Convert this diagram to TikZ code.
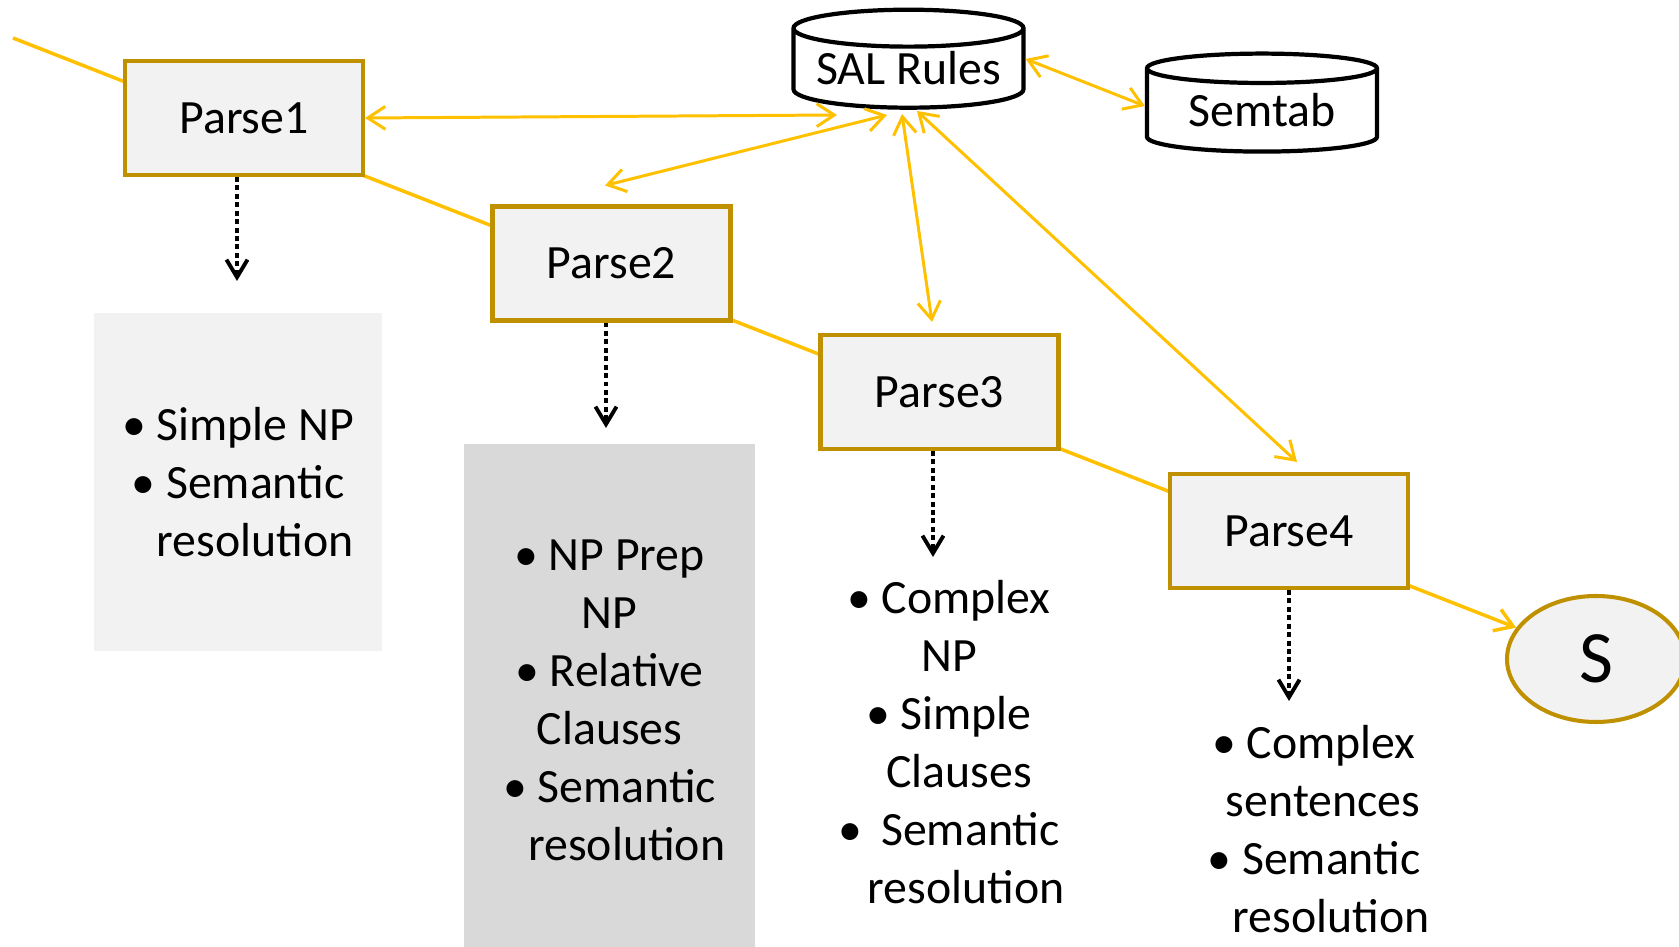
\documentclass[tikz,border=0pt]{standalone}
\usepackage{fontspec}
\setmainfont{Carlito}
\usetikzlibrary{arrows.meta,shapes.geometric,backgrounds}

\begin{document}
\begin{tikzpicture}[
        parse/.style={
            rectangle,
            fill={rgb,255:red,242; green,242; blue,242},  % Hex: #f2f2f2
            draw={rgb,255:red,191; green,144; blue,0},  % Hex: #bf9000
            line width=1.15pt,
            minimum width=2.38cm,
            minimum height=1.14cm,
            font=\fontsize{13.6}{16.5}\selectfont
        },
        result/.style={
            ellipse,
            fill={rgb,255:red,242; green,242; blue,242},  % Hex: #f2f2f2
            draw={rgb,255:red,191; green,144; blue,0},  % Hex: #bf9000
            line width=1.15pt,
            inner sep=0pt,
            minimum width=1.78cm,
            minimum height=1.26cm,
            font=\fontsize{21}{25}\selectfont
        },
        store/.style={
            cylinder,
            shape border rotate=90,
            aspect=0.2,
            fill=white,
            draw=black,
            line width=1.2pt,
            inner sep=0pt,
            minimum width=2.3cm,
            minimum height=0.98cm,
            text height=0.32cm,
            text depth=0.01cm,
            font=\fontsize{13.6}{16.5}\selectfont
        },
        items/.style={
            align=center,
            inner sep=0pt,
            font=\fontsize{13.6}{16.5}\selectfont
        },
        flow/.style={
            -{Straight Barb[length=5pt,width=6.5pt]},
            line width=1pt,
            draw={rgb,255:red,255; green,192; blue,0}  % Hex: #ffc000
        },
        link/.style={
            {Straight Barb[length=5pt,width=6.5pt]}-{Straight Barb[length=5pt,width=6.5pt]},
            line width=0.85pt,
            draw={rgb,255:red,255; green,192; blue,0}  % Hex: #ffc000
        },
        dotarrow/.style={
            -{Straight Barb[length=5pt,width=6pt]},
            line width=1.1pt,
            dash pattern=on 1.4pt off 1pt
        }
    ]
        \useasboundingbox (0,0) rectangle (16.79,9.47);

        % Parse stages
        \node[parse] (p1) at (2.44,8.29) {Parse1};
        \node[parse] (p2) at (6.115,6.835) {Parse2};
        \node[parse] (p3) at (9.395,5.55) {Parse3};
        \node[parse] (p4) at (12.89,4.16) {Parse4};
        \node[result] (s) at (15.96,2.88) {S};

        % Rule stores
        \node[store] (sal) at (9.085,8.78) {SAL Rules};
        \node[store] (sem) at (12.62,8.36) {Semtab};

        % What each stage handles
        \node[items, fill={rgb,255:red,242; green,242; blue,242},  % Hex: #f2f2f2
            minimum width=2.88cm, minimum height=3.38cm] (b1) at (2.38,4.65)
            {• Simple NP\\• Semantic\\\phantom{• }resolution};
        \node[items, fill={rgb,255:red,217; green,217; blue,217},  % Hex: #d9d9d9
            minimum width=2.91cm, minimum height=5.12cm] (b2) at (6.095,2.47)
            {• NP Prep\\NP\\• Relative\\Clauses\\• Semantic\\\phantom{• }resolution};
        \node[items] (t3) at (9.49,2.05)
            {• Complex\\NP\\• Simple\\\hspace*{0.2cm}Clauses\\•\hspace{0.4em}Semantic\\\phantom{• }resolution};
        \node[items] (t4) at (13.14,1.175)
            {• Complex\\\hspace*{0.18cm}sentences\\• Semantic\\\phantom{• }resolution};

        % Dotted hand-offs
        \coordinate (d1) at (2.37,6.66);
        \coordinate (d2) at (6.06,5.19);
        \coordinate (d3) at (9.33,3.90);
        \coordinate (d4) at (12.89,2.46);
        \draw[dotarrow] (p1.south -| d1) -- (d1);
        \draw[dotarrow] (p2.south -| d2) -- (d2);
        \draw[dotarrow] (p3.south -| d3) -- (d3);
        \draw[dotarrow] (p4.south -| d4) -- (d4);

        % Rule lookups
        \draw[link] (p1.east) -- ([shift={(-0.715,-0.46)}]sal.center);
        \draw[link] ([shift={(-0.065,0.19)}]p2.north) -- ([shift={(-0.215,-0.46)}]sal.center);
        \draw[link] ([shift={(-0.075,0.11)}]p3.north) -- ([shift={(-0.065,-0.45)}]sal.center);
        \draw[link] ([shift={(0.08,0.10)}]p4.north) -- ([shift={(0.085,-0.42)}]sal.center);
        \draw[link] ([yshift=0.1cm]sal.east) -- ([yshift=0.05cm]sem.west);

        % Main flow, behind the stages
        \coordinate (in) at (0.13,9.09);
        \begin{scope}[on background layer]
            \draw[flow] (in) -- (s);
        \end{scope}
\end{tikzpicture}
\end{document}
